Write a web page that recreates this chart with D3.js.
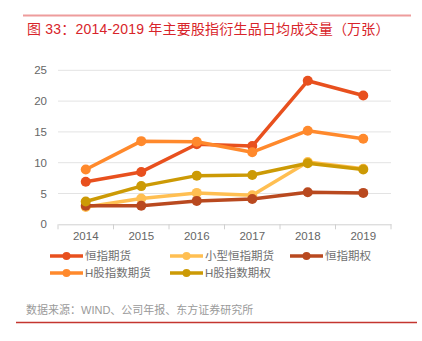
<!DOCTYPE html>
<html><head><meta charset="utf-8">
<script src="https://cdn.jsdelivr.net/npm/d3@7"></script>
<style>
html,body{margin:0;padding:0;background:#fff;}
svg{display:block;font-family:"Liberation Sans","Noto Sans CJK SC",sans-serif;}
</style></head>
<body>
<script>
const years = ["2014","2015","2016","2017","2018","2019"];
const seriesNames = ["恒指期货","小型恒指期货","恒指期权","H股指数期货","H股指数期权"];
const hsiFutures   = [6.9, 8.5, 13.0, 12.7, 23.3, 20.9];
const miniHsi      = [2.8, 4.2, 5.1, 4.7, 10.1, 9.0];
const hsiOptions   = [3.0, 3.0, 3.8, 4.1, 5.2, 5.1];
const hsceiFutures = [8.9, 13.5, 13.4, 11.7, 15.2, 13.9];
const hsceiOptions = [3.7, 6.2, 7.9, 8.0, 9.9, 8.9];
const yTicks = [0,5,10,15,20,25];
const colors = ["#E8501E","#FFBF52","#B9491F","#FF892C","#CC9A05"];
const seriesValues = [hsiFutures, miniHsi, hsiOptions, hsceiFutures, hsceiOptions];

const W=422,H=341;
const svg=d3.select("body").append("svg").attr("width",W).attr("height",H);

svg.append("line").attr("x1",23).attr("x2",411).attr("y1",15.5).attr("y2",15.5)
  .attr("stroke","#EE9C9C").attr("stroke-width",2);
svg.append("text").attr("x",27).attr("y",34).attr("fill","#D8242A")
  .attr("font-size",14).attr("font-weight","normal").attr("letter-spacing",0.2)
  .text("图 33：2014-2019 年主要股指衍生品日均成交量（万张）");

const x=d3.scaleBand().domain(years).range([58,391]);
const y=d3.scaleLinear().domain([0,25]).range([224.3,70.3]);

const g=svg.append("g");
g.selectAll("line.grid").data(yTicks.filter(d=>d>0)).join("line")
  .attr("x1",58).attr("x2",391).attr("y1",d=>y(d)).attr("y2",d=>y(d))
  .attr("stroke","#E3E3E3").attr("stroke-width",1);

const ya=svg.append("g").attr("transform","translate(58,0)")
  .call(d3.axisLeft(y).tickValues(yTicks).tickSize(0).tickPadding(11));
ya.select(".domain").remove();
ya.selectAll("text").attr("font-size",11.5).attr("fill","#666").attr("font-family","Liberation Sans, sans-serif");

const xa=svg.append("g").attr("transform","translate(0,224.3)")
  .call(d3.axisBottom(x).tickSize(0).tickPadding(8));
xa.select(".domain").attr("stroke","#D0D0D0");
xa.selectAll("text").attr("font-size",11.5).attr("fill","#666").attr("font-family","Liberation Sans, sans-serif");
const bounds=years.map(d=>x(d)).concat([x.range()[1]]);
xa.selectAll("line.bt").data(bounds).join("line").attr("class","bt")
  .attr("x1",d=>d).attr("x2",d=>d).attr("y1",0).attr("y2",5).attr("stroke","#D0D0D0");

const cx=d=>x(d)+x.bandwidth()/2;
const line=d3.line().x((v,i)=>cx(years[i])).y(v=>y(v));
seriesValues.forEach((vals,si)=>{
  const sg=svg.append("g");
  sg.append("path").attr("d",line(vals)).attr("fill","none")
    .attr("stroke",colors[si]).attr("stroke-width",3.5).attr("stroke-linejoin","round");
  sg.selectAll("circle").data(vals).join("circle")
    .attr("cx",(v,i)=>cx(years[i])).attr("cy",v=>y(v)).attr("r",5).attr("fill",colors[si]);
});

const legPos=[[50,256],[170,256],[290,256],[50,273],[170,273]];
seriesNames.forEach((n,i)=>{
  const [lx,ly]=legPos[i];
  const lg=svg.append("g");
  lg.append("line").attr("x1",lx).attr("x2",lx+33).attr("y1",ly).attr("y2",ly)
    .attr("stroke",colors[i]).attr("stroke-width",3.5);
  lg.append("circle").attr("cx",lx+16.5).attr("cy",ly).attr("r",4).attr("fill",colors[i]);
  lg.append("text").attr("x",lx+35).attr("y",ly+4).attr("font-size",11.5).attr("fill","#707070").text(n);
});

svg.append("text").attr("x",26).attr("y",314).attr("font-size",11).attr("fill","#9A9A9A")
  .text("数据来源：WIND、公司年报、东方证券研究所");
svg.append("line").attr("x1",16).attr("x2",417).attr("y1",322.5).attr("y2",322.5)
  .attr("stroke","#C4352F").attr("stroke-width",1.3);
</script>
</body></html>
